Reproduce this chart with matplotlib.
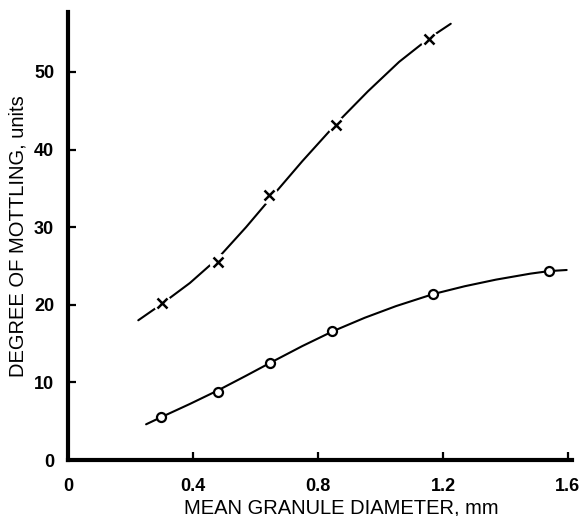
"""
Degree of mottling vs. mean granule diameter (two series, hand-fitted curves).
"""

import matplotlib
matplotlib.use("Agg")
import matplotlib.pyplot as plt

# Valores
cross_x = [0.30, 0.481, 0.644, 0.858, 1.156]
cross_y = [20.25, 25.45, 34.2, 43.1, 54.3]
cross_curve_x = [0.225, 0.30, 0.39, 0.48, 0.57, 0.65, 0.75, 0.86, 0.96, 1.06, 1.156, 1.225]
cross_curve_y = [18.0, 20.1, 22.8, 26.0, 30.0, 33.8, 38.5, 43.4, 47.5, 51.3, 54.35, 56.2]

circle_x = [0.297, 0.481, 0.646, 0.846, 1.169, 1.540]
circle_y = [5.57, 8.8, 12.5, 16.6, 21.4, 24.4]
circle_curve_x = [0.25, 0.30, 0.39, 0.48, 0.57, 0.65, 0.75, 0.85, 0.95, 1.05,
                  1.17, 1.27, 1.37, 1.48, 1.54, 1.596]
circle_curve_y = [4.6, 5.55, 7.22, 8.97, 10.86, 12.58, 14.68, 16.63, 18.33, 19.83,
                  21.39, 22.39, 23.24, 24.01, 24.34, 24.48]

x_ticks = [0, 0.4, 0.8, 1.2, 1.6]
x_ticklabels = ["0", "0.4", "0.8", "1.2", "1.6"]
y_ticks = [0, 10, 20, 30, 40, 50]
y_ticklabels = ["0", "10", "20", "30", "40", "50"]

plt.rcParams["font.family"] = ["Liberation Sans", "DejaVu Sans"]

fig = plt.figure(figsize=(5.82, 5.16), dpi=100)
ax = fig.add_axes([0.1168, 0.1085, 0.866, 0.868])

# curva superior (cruces), con huecos blancos alrededor de cada marca
ax.plot(cross_curve_x, cross_curve_y, color="black", lw=1.5,
        solid_capstyle="round", solid_joinstyle="round", zorder=2)
ax.plot(cross_x, cross_y, ls="none", marker="o", ms=13, mfc="white", mec="none", zorder=3)
ax.plot(cross_x, cross_y, ls="none", marker="x", ms=6.5, mew=1.8, color="black", zorder=4)

# curva inferior (círculos abiertos)
ax.plot(circle_curve_x, circle_curve_y, color="black", lw=1.5,
        solid_capstyle="round", solid_joinstyle="round", zorder=2)
ax.plot(circle_x, circle_y, ls="none", marker="o", ms=6.5, mfc="white", mec="black", mew=1.6, zorder=4)

ax.set_xlim(0, 1.613)
ax.set_ylim(0, 57.7)

for side in ("top", "right"):
    ax.spines[side].set_visible(False)
for side in ("left", "bottom"):
    ax.spines[side].set_linewidth(3)

ax.set_xticks(x_ticks)
ax.set_xticklabels(x_ticklabels)
ax.set_yticks(y_ticks)
ax.set_yticklabels(y_ticklabels)
ax.tick_params(direction="in", length=6, width=1.6, labelsize=13)
ax.tick_params(axis="x", pad=13)
ax.tick_params(axis="y", pad=10)
for lbl in ax.get_xticklabels() + ax.get_yticklabels():
    lbl.set_fontweight("bold")
ax.xaxis.get_major_ticks()[0].tick1line.set_visible(False)
ax.yaxis.get_major_ticks()[0].tick1line.set_visible(False)

ax.set_xlabel("MEAN GRANULE DIAMETER, mm", fontsize=14.5, labelpad=1)
ax.set_ylabel("DEGREE OF MOTTLING, units", fontsize=14.5, labelpad=5)
ax.xaxis.set_label_coords(0.542, -0.086)

fig.savefig("out.png", dpi=100, facecolor="white")
